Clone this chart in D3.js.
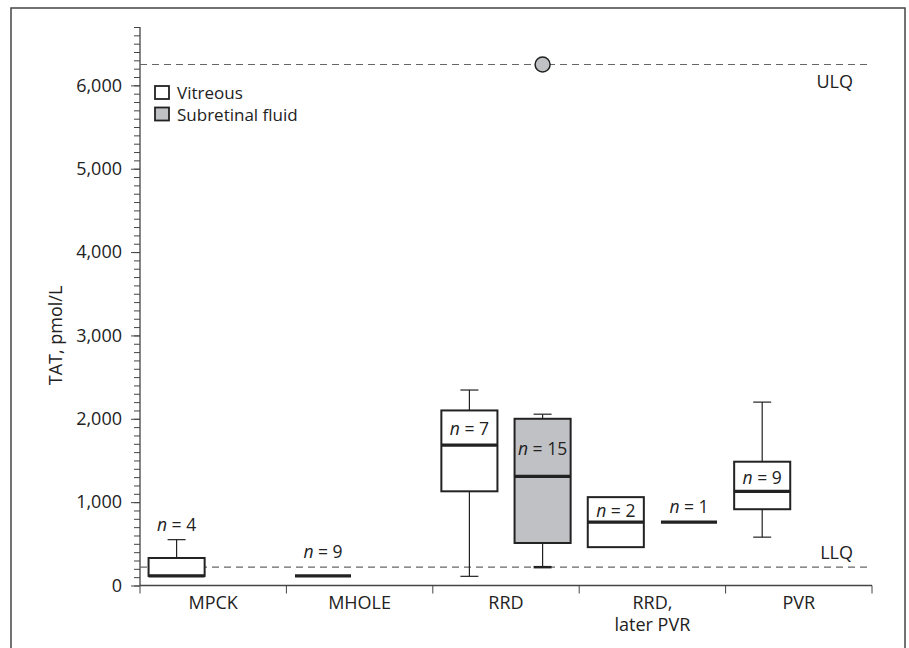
<!DOCTYPE html>
<html>
<head>
<meta charset="utf-8">
<script src="https://cdn.jsdelivr.net/npm/d3@7"></script>
<style>
  body { margin: 0; background: #fff; }
  text { font-family: "Open Sans", sans-serif; fill: #222; }
</style>
</head>
<body>
<div id="chart-area"></div>
<script>
// categories and groups
const categories = ["MPCK", "MHOLE", "RRD", "RRD, later PVR", "PVR"]
const groups = ["Vitreous", "Subretinal fluid"]

// vitreous box stats (pmol/L)
const vitreousN      = [4, 9, 7, 2, 9]
const vitreousMin    = [115, 115, 110, 460, 580]
const vitreousQ1     = [115, 115, 1130, 460, 915]
const vitreousMedian = [115, 115, 1685, 760, 1130]
const vitreousQ3     = [330, 115, 2100, 1060, 1485]
const vitreousMax    = [550, 115, 2345, 1060, 2200]

// subretinal fluid box stats (null = not measured)
const subretinalN      = [null, null, 15, 1, null]
const subretinalMin    = [null, null, 220, 760, null]
const subretinalQ1     = [null, null, 510, 760, null]
const subretinalMedian = [null, null, 1310, 760, null]
const subretinalQ3     = [null, null, 2000, 760, null]
const subretinalMax    = [null, null, 2055, 760, null]
const subretinalOutliers = [{cat: "RRD", value: 6250}]

// quantification limits
const ulq = 6250
const llq = 220

const yTicks = [0, 1000, 2000, 3000, 4000, 5000, 6000]

const W = 909, H = 648
const margin = {left: 140, right: 37, top: 27, bottom: 62.5}
const width = W - margin.left - margin.right
const height = H - margin.top - margin.bottom
const fs = "18px"

const svg = d3.select("#chart-area").append("svg")
    .attr("width", W)
    .attr("height", H)

// outer frame
svg.append("rect")
    .attr("x", 11).attr("y", 8)
    .attr("width", 894).attr("height", 680)
    .attr("fill", "none")
    .attr("stroke", "#444")
    .attr("stroke-width", 1.5)

const g = svg.append("g")
    .attr("transform", `translate(${margin.left}, ${margin.top})`)

const x = d3.scaleBand()
    .domain(categories)
    .range([0, width])

const xSub = d3.scaleBand()
    .domain(groups)
    .range([0, x.bandwidth()])
    .paddingInner(0.234)
    .paddingOuter(0.117)

const y = d3.scaleLinear()
    .domain([0, 6700])
    .range([height, 0])

// build box rows from the arrays
const boxes = []
categories.forEach((c, i) => {
    boxes.push({cat: c, grp: groups[0], n: vitreousN[i], min: vitreousMin[i], q1: vitreousQ1[i],
        med: vitreousMedian[i], q3: vitreousQ3[i], max: vitreousMax[i]})
    if (subretinalN[i] != null) {
        boxes.push({cat: c, grp: groups[1], n: subretinalN[i], min: subretinalMin[i], q1: subretinalQ1[i],
            med: subretinalMedian[i], q3: subretinalQ3[i], max: subretinalMax[i]})
    }
})
const fillOf = grp => grp === groups[0] ? "#fff" : "#c0c1c5"

// Y axis: minor ticks every 100
const minor = d3.range(0, 6701, 100)
g.append("g")
    .attr("class", "y minor")
    .call(d3.axisLeft(y).tickValues(minor).tickSize(6).tickFormat(""))
    .call(a => a.select(".domain").remove())
    .selectAll("line").attr("stroke", "#444")

const yAxis = g.append("g")
    .attr("class", "y axis")
    .call(d3.axisLeft(y).tickValues(yTicks).tickSize(9).tickPadding(9)
        .tickFormat(d3.format(",")))
yAxis.select(".domain").attr("d", `M0,${height}V${y(6700)}`).attr("stroke", "#444").attr("stroke-width", 1.3)
yAxis.selectAll("line").attr("stroke", "#444")
yAxis.selectAll("text").attr("font-size", fs).attr("fill", "#222")
    .style("font-family", '"Open Sans", sans-serif')

// Y label
g.append("text")
    .attr("x", -(y(3000)))
    .attr("y", -78)
    .attr("font-size", fs)
    .attr("text-anchor", "middle")
    .attr("transform", "rotate(-90)")
    .text("TAT, pmol/L")

// X axis: separators between categories
const xAxis = g.append("g").attr("class", "x axis").attr("transform", `translate(0, ${height})`)
xAxis.append("line").attr("x1", 0).attr("x2", width).attr("stroke", "#444").attr("stroke-width", 1.3)
xAxis.selectAll(".sep")
    .data(categories.map(c => x(c)).concat([width]))
    .enter().append("line")
    .attr("x1", d => d).attr("x2", d => d)
    .attr("y1", 0).attr("y2", 8)
    .attr("stroke", "#444")
const xLab = xAxis.selectAll(".lab")
    .data(categories)
    .enter().append("text")
    .attr("x", d => x(d) + x.bandwidth() / 2)
    .attr("y", 23)
    .attr("font-size", fs)
    .attr("text-anchor", "middle")
xLab.each(function(d) {
    const parts = d.split(", ")
    const t = d3.select(this)
    parts.forEach((p, i) => {
        t.append("tspan")
            .attr("x", x(d) + x.bandwidth() / 2)
            .attr("dy", i === 0 ? 0 : 22)
            .text(i < parts.length - 1 ? p + "," : p)
    })
})

// ULQ / LLQ reference lines
;[[ulq, "ULQ", 23], [llq, "LLQ", -8]].forEach(([v, name, dy]) => {
    g.append("line")
        .attr("x1", 0).attr("x2", width)
        .attr("y1", y(v)).attr("y2", y(v))
        .attr("stroke", "#666")
        .attr("stroke-width", 1.2)
        .attr("stroke-dasharray", "7,5")
    g.append("text")
        .attr("x", width - 19)
        .attr("y", y(v) + dy)
        .attr("font-size", fs)
        .attr("text-anchor", "end")
        .text(name)
})

const cx = d => x(d.cat) + xSub(d.grp) + xSub.bandwidth() / 2
const bw = xSub.bandwidth()
const cap = 18

const bx = g.selectAll(".box").data(boxes).enter().append("g").attr("class", "box")

// whiskers
bx.filter(d => d.max > d.q3).append("line")
    .attr("x1", cx).attr("x2", cx)
    .attr("y1", d => y(d.q3)).attr("y2", d => y(d.max))
    .attr("stroke", "#222").attr("stroke-width", 1.2)
bx.filter(d => d.max > d.q3).append("line")
    .attr("x1", d => cx(d) - cap / 2).attr("x2", d => cx(d) + cap / 2)
    .attr("y1", d => y(d.max)).attr("y2", d => y(d.max))
    .attr("stroke", "#222").attr("stroke-width", 1.2)
bx.filter(d => d.min < d.q1).append("line")
    .attr("x1", cx).attr("x2", cx)
    .attr("y1", d => y(d.q1)).attr("y2", d => y(d.min))
    .attr("stroke", "#222").attr("stroke-width", 1.2)
bx.filter(d => d.min < d.q1).append("line")
    .attr("x1", d => cx(d) - cap / 2).attr("x2", d => cx(d) + cap / 2)
    .attr("y1", d => y(d.min)).attr("y2", d => y(d.min))
    .attr("stroke", "#222").attr("stroke-width", d => d.grp === groups[1] ? 2.5 : 1.2)

// boxes
bx.filter(d => d.q3 > d.q1).append("rect")
    .attr("x", d => cx(d) - bw / 2)
    .attr("y", d => y(d.q3))
    .attr("width", bw)
    .attr("height", d => y(d.q1) - y(d.q3))
    .attr("fill", d => fillOf(d.grp))
    .attr("stroke", "#222")
    .attr("stroke-width", 2)

// medians
bx.append("line")
    .attr("x1", d => cx(d) - bw / 2).attr("x2", d => cx(d) + bw / 2)
    .attr("y1", d => y(d.med)).attr("y2", d => y(d.med))
    .attr("stroke", "#222").attr("stroke-width", 3.2)

// n labels: inside the box if it is tall enough, otherwise above the data and the LLQ line
const nLab = bx.append("text")
    .attr("x", cx)
    .attr("y", d => (y(d.q1) - y(d.q3)) > 40
        ? (y(d.q3) + y(d.med)) / 2 + 7
        : Math.min(y(d.max), y(llq)) - 9)
    .attr("font-size", "17.5px")
    .attr("text-anchor", "middle")
nLab.append("tspan").attr("font-style", "italic").text("n")
nLab.append("tspan").text(d => ` = ${d.n}`)

// outliers
g.selectAll(".outlier").data(subretinalOutliers).enter().append("circle")
    .attr("cx", d => x(d.cat) + xSub(groups[1]) + xSub.bandwidth() / 2)
    .attr("cy", d => y(d.value))
    .attr("r", 7.5)
    .attr("fill", "#c0c1c5")
    .attr("stroke", "#222")
    .attr("stroke-width", 1.5)

// legend
const legend = g.append("g").attr("transform", "translate(15, 59)")
groups.forEach((grp, i) => {
    legend.append("rect")
        .attr("x", 0).attr("y", i * 21.5)
        .attr("width", 14).attr("height", 13)
        .attr("fill", fillOf(grp))
        .attr("stroke", "#222").attr("stroke-width", 1.8)
    legend.append("text")
        .attr("x", 22).attr("y", i * 21.5 + 13)
        .attr("font-size", "17px")
        .text(grp)
})
</script>
</body>
</html>
